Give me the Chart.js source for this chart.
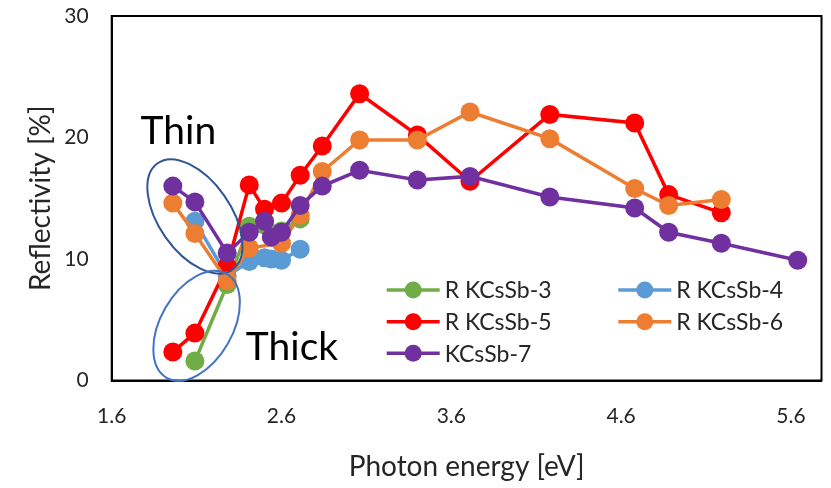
<!DOCTYPE html>
<html>
<head>
<meta charset="utf-8">
<script src="https://cdn.jsdelivr.net/npm/chart.js@4"></script>
<style>
  html, body { margin: 0; padding: 0; background: #fff; }
  #wrap { width: 831px; height: 488px; }
</style>
</head>
<body>
<div id="wrap"><canvas id="chart" width="831" height="488"></canvas></div>
<script>
// photon energies of the laser lines [eV]
const energy = [1.96, 2.09, 2.28, 2.41, 2.50, 2.54, 2.60, 2.71, 2.84, 3.06, 3.40, 3.71, 4.18, 4.68, 4.88, 5.19, 5.64];

// reflectivity [%] per sample, null where not measured
const rKCsSb3 = [null, 1.6, 7.9, 12.7, 12.8, null, 12.3, 13.3, null, null, null, null, null, null, null, null, null];
const rKCsSb4 = [null, 13.1, 8.6, 9.8, 10.1, 10.0, 9.9, 10.8, null, null, null, null, null, null, null, null, null];
const rKCsSb5 = [2.35, 3.9, 9.4, 16.1, 14.1, null, 14.6, 16.9, 19.3, 23.6, 20.2, 16.4, 21.9, 21.2, 15.3, 13.8, null];
const rKCsSb6 = [14.6, 12.1, 8.2, 10.9, null, null, 11.3, 13.6, 17.2, 19.8, 19.8, 22.1, 19.9, 15.8, 14.4, 14.9, null];
const kCsSb7  = [16.0, 14.7, 10.5, 12.2, 13.1, 11.8, 12.2, 14.4, 16.0, 17.3, 16.5, 16.8, 15.1, 14.2, 12.2, 11.3, 9.9];

const xTicks = [1.6, 2.6, 3.6, 4.6, 5.6];
const yTicks = [0, 10, 20, 30];

const seriesNames  = ['R KCsSb-3', 'R KCsSb-4', 'R KCsSb-5', 'R KCsSb-6', 'KCsSb-7'];
const seriesValues = [rKCsSb3, rKCsSb4, rKCsSb5, rKCsSb6, kCsSb7];
const seriesColors = ['#70AD47', '#5B9BD5', '#FF0000', '#ED7D31', '#7030A0'];

const FONT = 'Lato, "Open Sans", sans-serif';
const TEXT = '#262626';

function toPoints(vals) {
  return energy.map((x, i) => ({ x, y: vals[i] })).filter(p => p.y !== null);
}

const datasets = seriesNames.map((name, i) => ({
  label: name,
  data: toPoints(seriesValues[i]),
  showLine: true,
  borderColor: seriesColors[i],
  backgroundColor: seriesColors[i],
  borderWidth: 3.5,
  pointRadius: 9.5,
  pointHoverRadius: 9.5,
  pointBorderWidth: 0,
  order: seriesNames.length - i   // later series on top
}));

// frame, thin/thick ellipses, their labels and the in-plot legend
const decorations = {
  id: 'decorations',
  afterDatasetsDraw(chart) {
    const { ctx, chartArea: a, scales: { x, y } } = chart;
    ctx.save();

    // box round the plot area
    ctx.strokeStyle = '#000';
    ctx.lineWidth = 2;
    ctx.strokeRect(a.left, a.top, a.right - a.left, a.bottom - a.top);

    // ellipses grouping the thin and thick films
    function ellipse(cx, cy, rx, ry, rot, color) {
      ctx.beginPath();
      ctx.ellipse(x.getPixelForValue(cx), y.getPixelForValue(cy), rx, ry, rot, 0, Math.PI * 2);
      ctx.strokeStyle = color;
      ctx.lineWidth = 2;
      ctx.stroke();
    }
    ellipse(2.09, 13.5, 65, 36, 55 * Math.PI / 180, '#2F5597');
    ellipse(2.10, 4.5, 60, 36, -60 * Math.PI / 180, '#4472C4');

    ctx.fillStyle = '#000';
    ctx.font = '39px ' + FONT;
    ctx.textAlign = 'left';
    ctx.textBaseline = 'alphabetic';
    ctx.fillText('Thin', x.getPixelForValue(1.77), y.getPixelForValue(19.5));
    ctx.fillText('Thick', x.getPixelForValue(2.39), y.getPixelForValue(1.7));

    // legend, two columns
    const cols = [386.7, 618.3];
    const rows = [290, 321.7, 353.3];
    ctx.font = '23px ' + FONT;
    ctx.textBaseline = 'middle';
    seriesNames.forEach((name, i) => {
      const lx = cols[i % 2];
      const ly = rows[Math.floor(i / 2)];
      ctx.strokeStyle = seriesColors[i];
      ctx.lineWidth = 3.5;
      ctx.beginPath();
      ctx.moveTo(lx, ly);
      ctx.lineTo(lx + 53, ly);
      ctx.stroke();
      ctx.fillStyle = seriesColors[i];
      ctx.beginPath();
      ctx.arc(lx + 26.5, ly, 8.5, 0, Math.PI * 2);
      ctx.fill();
      ctx.fillStyle = TEXT;
      ctx.fillText(name, lx + 58, ly + 1);
    });

    ctx.restore();
  }
};

new Chart(document.getElementById('chart'), {
  type: 'scatter',
  data: { datasets },
  plugins: [decorations],
  options: {
    responsive: false,
    animation: false,
    devicePixelRatio: 1,
    layout: { padding: { top: 16, right: 0, bottom: 0, left: 0 } },
    plugins: {
      legend: { display: false },
      tooltip: { enabled: false }
    },
    scales: {
      x: {
        type: 'linear',
        min: 1.6,
        max: 5.78,
        afterBuildTicks: s => { s.ticks = xTicks.map(v => ({ value: v })); },
        afterFit: s => { s.height = 107.5; },
        grid: { display: false },
        border: { display: true, color: '#000', width: 2 },
        ticks: {
          autoSkip: false,
          maxRotation: 0,
          padding: 15,
          color: TEXT,
          font: { family: FONT, size: 21 },
          callback: v => v.toFixed(1)
        },
        title: {
          display: true,
          text: 'Photon energy [eV]',
          color: TEXT,
          font: { family: FONT, size: 28 },
          padding: { top: 0, bottom: 4 }
        }
      },
      y: {
        min: 0,
        max: 30,
        afterBuildTicks: s => { s.ticks = yTicks.map(v => ({ value: v })); },
        afterFit: s => {
          s.width = 111.7;
          // keep the plot top pinned to the layout padding
          s.paddingTop = 0;
          s.paddingBottom = 0;
        },
        grid: { display: false },
        border: { display: true, color: '#000', width: 2 },
        ticks: {
          padding: 15,
          color: TEXT,
          font: { family: FONT, size: 21 }
        },
        title: {
          display: true,
          text: 'Reflectivity [%]',
          color: TEXT,
          font: { family: FONT, size: 28 },
          padding: { top: 24, bottom: 0 }
        }
      }
    }
  }
});
</script>
</body>
</html>
